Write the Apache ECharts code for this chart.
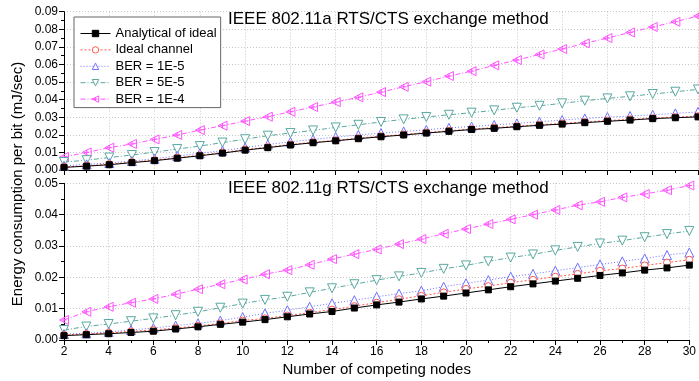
<!DOCTYPE html>
<html>
<head>
<meta charset="utf-8">
<script src="https://cdn.jsdelivr.net/npm/echarts@6/dist/echarts.min.js"></script>
<style>
html, body { margin: 0; padding: 0; background: #fff; }
#chart { width: 699px; height: 381px; }
</style>
</head>
<body>
<div id="chart"></div>
<script>
// number of competing nodes
var nodes = [2, 3, 4, 5, 6, 7, 8, 9, 10, 11, 12, 13, 14, 15, 16, 17, 18, 19, 20, 21, 22, 23, 24, 25, 26, 27, 28, 29, 30];

var seriesNames = ['Analytical of ideal', 'Ideal channel', 'BER = 1E-5', 'BER = 5E-5', 'BER = 1E-4'];
var panelTitles = ['IEEE 802.11a RTS/CTS exchange method', 'IEEE 802.11g RTS/CTS exchange method'];
var topTicks = [0, 0.01, 0.02, 0.03, 0.04, 0.05, 0.06, 0.07, 0.08, 0.09];
var bottomTicks = [0, 0.01, 0.02, 0.03, 0.04, 0.05];

// 802.11a
var analyticalA = [0.0015, 0.0022, 0.0030, 0.0042, 0.0053, 0.0067, 0.0081, 0.0096, 0.0113, 0.0127, 0.0142, 0.0155, 0.0166, 0.0178, 0.0189, 0.0199, 0.0210, 0.0220, 0.0230, 0.0237, 0.0246, 0.0254, 0.0261, 0.0269, 0.0277, 0.0284, 0.0292, 0.0297, 0.0302];
var idealA = [0.0017, 0.0024, 0.0033, 0.0045, 0.0056, 0.0070, 0.0084, 0.0099, 0.0116, 0.0130, 0.0145, 0.0158, 0.0169, 0.0181, 0.0192, 0.0202, 0.0213, 0.0223, 0.0233, 0.0241, 0.0249, 0.0257, 0.0265, 0.0273, 0.0281, 0.0288, 0.0295, 0.0301, 0.0306];
var ber1A = [0.0024, 0.0032, 0.0040, 0.0051, 0.0064, 0.0080, 0.0095, 0.0110, 0.0128, 0.0145, 0.0160, 0.0174, 0.0187, 0.0199, 0.0210, 0.0219, 0.0228, 0.0240, 0.0247, 0.0256, 0.0265, 0.0274, 0.0284, 0.0293, 0.0301, 0.0307, 0.0314, 0.0322, 0.0330];
var ber5A = [0.0045, 0.0056, 0.0071, 0.0085, 0.0102, 0.0119, 0.0136, 0.0156, 0.0175, 0.0195, 0.0210, 0.0225, 0.0242, 0.0257, 0.0273, 0.0288, 0.0301, 0.0314, 0.0326, 0.0339, 0.0354, 0.0365, 0.0379, 0.0394, 0.0407, 0.0419, 0.0432, 0.0445, 0.0458];
var ber10A = [0.0074, 0.0100, 0.0127, 0.0148, 0.0174, 0.0199, 0.0227, 0.0252, 0.0278, 0.0303, 0.0331, 0.0358, 0.0386, 0.0413, 0.0443, 0.0473, 0.0502, 0.0534, 0.0562, 0.0595, 0.0625, 0.0657, 0.0688, 0.0720, 0.0750, 0.0782, 0.0813, 0.0843, 0.0875];

// 802.11g
var analyticalG = [0.0014, 0.0017, 0.0020, 0.0024, 0.0028, 0.0035, 0.0042, 0.0050, 0.0057, 0.0065, 0.0074, 0.0083, 0.0091, 0.0102, 0.0112, 0.0121, 0.0131, 0.0140, 0.0150, 0.0160, 0.0170, 0.0179, 0.0188, 0.0197, 0.0206, 0.0214, 0.0223, 0.0230, 0.0239];
var idealG = [0.0016, 0.0019, 0.0023, 0.0027, 0.0032, 0.0038, 0.0045, 0.0053, 0.0062, 0.0069, 0.0078, 0.0087, 0.0097, 0.0108, 0.0119, 0.0130, 0.0141, 0.0152, 0.0163, 0.0172, 0.0183, 0.0192, 0.0202, 0.0211, 0.0221, 0.0228, 0.0238, 0.0247, 0.0256];
var ber1G = [0.0019, 0.0021, 0.0026, 0.0032, 0.0038, 0.0046, 0.0053, 0.0062, 0.0073, 0.0085, 0.0095, 0.0106, 0.0117, 0.0127, 0.0138, 0.0148, 0.0157, 0.0170, 0.0181, 0.0191, 0.0202, 0.0211, 0.0221, 0.0231, 0.0241, 0.0251, 0.0260, 0.0271, 0.0279];
var ber5G = [0.0032, 0.0043, 0.0051, 0.0060, 0.0069, 0.0079, 0.0090, 0.0103, 0.0116, 0.0128, 0.0138, 0.0152, 0.0165, 0.0178, 0.0191, 0.0203, 0.0214, 0.0227, 0.0238, 0.0251, 0.0263, 0.0273, 0.0286, 0.0297, 0.0308, 0.0317, 0.0328, 0.0338, 0.0348];
var ber10G = [0.0064, 0.0090, 0.0106, 0.0119, 0.0131, 0.0146, 0.0162, 0.0178, 0.0193, 0.0210, 0.0223, 0.0240, 0.0258, 0.0274, 0.0289, 0.0306, 0.0322, 0.0339, 0.0354, 0.0370, 0.0385, 0.0400, 0.0415, 0.0430, 0.0441, 0.0455, 0.0466, 0.0478, 0.0493];

var FONT = "'Liberation Sans', Arial, sans-serif";
var triLeft = 'path://M10,0 L0,5 L10,10 Z M5,2 L5,8 M2,5 L8,5';

// look of each curve, same order as seriesNames
var styles = [
    { color: '#000000', dash: 'solid', symbol: 'rect', size: 6, fill: '#000000' },
    { color: '#ff5a4a', dash: [2, 2], symbol: 'circle', size: 7, fill: '#ffffff' },
    { color: '#7070ff', dash: [1, 2], symbol: 'triangle', size: 9, fill: '#ffffff', rotate: 0 },
    { color: '#5aa8a0', dash: [5, 2, 1, 2], symbol: 'triangle', size: 9, fill: '#ffffff', rotate: 180 },
    { color: '#ff55ff', dash: [5, 2, 1, 2], symbol: triLeft, size: 9, fill: 'none' }
];

function pairs(ys) {
    return nodes.map(function (x, i) { return [x, ys[i]]; });
}

function makeSeries(idx, values, name, panel) {
    var s = styles[idx];
    return {
        name: name,
        type: 'line',
        xAxisIndex: panel,
        yAxisIndex: panel,
        data: pairs(values),
        symbol: s.symbol,
        symbolSize: s.size,
        symbolRotate: s.rotate || 0,
        showAllSymbol: true,
        animation: false,
        lineStyle: { color: s.color, width: 1, type: s.dash },
        itemStyle: { color: s.fill, borderColor: s.color, borderWidth: 1 },
        z: 10 - idx
    };
}

var series = [];
[analyticalA, idealA, ber1A, ber5A, ber10A].forEach(function (v, i) {
    series.push(makeSeries(i, v, seriesNames[i], 0));
});
[analyticalG, idealG, ber1G, ber5G, ber10G].forEach(function (v, i) {
    series.push(makeSeries(i, v, seriesNames[i], 1));
});

function xAxisCfg(gridIndex, showLabels) {
    return {
        type: 'value',
        gridIndex: gridIndex,
        min: 2,
        max: 30,
        interval: 2,
        axisLine: { show: true, onZero: false, lineStyle: { color: '#000', width: 1 } },
        axisTick: { show: true, inside: false, length: 5, lineStyle: { color: '#000' } },
        minorTick: { show: true, splitNumber: 2, length: 3, lineStyle: { color: '#000' } },
        splitLine: { show: true, lineStyle: { color: '#c8c8c8', type: [1, 2] } },
        axisLabel: { show: showLabels, margin: 6, color: '#000', fontSize: 12, fontFamily: FONT },
        name: showLabels ? 'Number of competing nodes' : '',
        nameLocation: 'middle',
        nameGap: 22,
        nameTextStyle: { color: '#000', fontSize: 15, fontFamily: FONT }
    };
}

function yAxisCfg(gridIndex, ticks) {
    return {
        type: 'value',
        gridIndex: gridIndex,
        min: ticks[0],
        max: ticks[ticks.length - 1],
        interval: 0.01,
        axisLine: { show: true, lineStyle: { color: '#000', width: 1 } },
        axisTick: { show: true, inside: false, length: 5, lineStyle: { color: '#000' } },
        minorTick: { show: true, splitNumber: 2, length: 3, lineStyle: { color: '#000' } },
        splitLine: { show: true, lineStyle: { color: '#c8c8c8', type: [1, 2] } },
        axisLabel: {
            margin: 6, color: '#000', fontSize: 12, fontFamily: FONT,
            formatter: function (v) { return v.toFixed(2); }
        }
    };
}

var chart = echarts.init(document.getElementById('chart'));
chart.setOption({
    backgroundColor: '#ffffff',
    animation: false,
    title: [{
        text: panelTitles[0],
        left: 228, top: 11, padding: 0,
        textStyle: { color: '#000', fontSize: 17, fontWeight: 'normal', fontFamily: FONT }
    }, {
        text: panelTitles[1],
        left: 228, top: 180, padding: 0,
        textStyle: { color: '#000', fontSize: 17, fontWeight: 'normal', fontFamily: FONT }
    }],
    legend: {
        orient: 'vertical',
        left: 74, top: 17,
        padding: [9, 4, 1, 6],
        itemWidth: 30,
        itemHeight: 8,
        itemGap: 1.4,
        backgroundColor: '#ffffff',
        borderColor: '#666',
        borderWidth: 1,
        data: seriesNames,
        lineStyle: { width: 1 },
        itemStyle: { borderWidth: 1 },
        textStyle: { color: '#000', fontSize: 13, lineHeight: 15, fontFamily: FONT },
        z: 20
    },
    grid: [
        { left: 64, right: 1, top: 11.7, bottom: 211 },
        { left: 64, right: 1, top: 183.3, bottom: 41 }
    ],
    xAxis: [xAxisCfg(0, false), xAxisCfg(1, true)],
    yAxis: [yAxisCfg(0, topTicks), yAxisCfg(1, bottomTicks)],
    graphic: [{
        type: 'text',
        x: 18, y: 184,
        rotation: Math.PI / 2,
        style: {
            text: 'Energy consumption per bit (mJ/sec)',
            fill: '#000',
            font: '15px ' + FONT,
            textAlign: 'center',
            textVerticalAlign: 'middle'
        }
    }],
    series: series
});
</script>
</body>
</html>
